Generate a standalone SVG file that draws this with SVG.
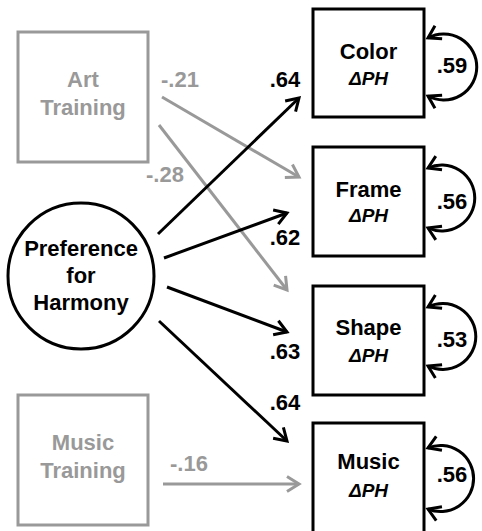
<svg xmlns="http://www.w3.org/2000/svg" width="482" height="531" viewBox="0 0 482 531">
<style>
.t{font-family:"Liberation Sans",Arial,sans-serif;font-weight:bold;font-size:22px;text-anchor:middle}
.s{font-family:"Liberation Sans",Arial,sans-serif;font-weight:bold;font-style:italic;font-size:19px;text-anchor:middle}
.blk{fill:#000}
.gry{fill:#999}
.bx{fill:#fff;stroke:#000;stroke-width:3}
.gbx{fill:#fff;stroke:#999;stroke-width:3}
.e{fill:none;stroke:#000;stroke-width:3}
.ge{fill:none;stroke:#999;stroke-width:3}
</style>
<defs>
<marker id="ab" markerUnits="userSpaceOnUse" markerWidth="20" markerHeight="20" viewBox="-16 -10 20 20" refX="0" refY="0" orient="auto-start-reverse">
<path d="M -12 -7.5 L 0 0 L -12 7.5" fill="none" stroke="#000" stroke-width="3"/>
</marker>
<marker id="ag" markerUnits="userSpaceOnUse" markerWidth="20" markerHeight="20" viewBox="-16 -10 20 20" refX="0" refY="0" orient="auto">
<path d="M -12 -7.5 L 0 0 L -12 7.5" fill="none" stroke="#999" stroke-width="3"/>
</marker>
</defs>
<rect width="482" height="531" fill="#fff"/>
<g id="connectors">
<line class="ge" x1="162" y1="97" x2="299" y2="177" marker-end="url(#ag)"/>
<line class="ge" x1="159" y1="125" x2="287" y2="290" marker-end="url(#ag)"/>
<line class="e" x1="158" y1="234" x2="299" y2="98" marker-end="url(#ab)"/>
<line class="e" x1="164" y1="258" x2="287" y2="213" marker-end="url(#ab)"/>
<line class="e" x1="167" y1="287" x2="287" y2="332" marker-end="url(#ab)"/>
<line class="e" x1="159" y1="321" x2="287" y2="441" marker-end="url(#ab)"/>
<line class="ge" x1="163" y1="484" x2="299" y2="484" marker-end="url(#ag)"/>
<path class="e" d="M 428 38 A 33 33 0 1 1 428 96" marker-start="url(#ab)" marker-end="url(#ab)"/>
<path class="e" d="M 428 168 A 33 33 0 1 1 428 228" marker-start="url(#ab)" marker-end="url(#ab)"/>
<path class="e" d="M 428 307 A 33 33 0 1 1 428 366" marker-start="url(#ab)" marker-end="url(#ab)"/>
<path class="e" d="M 428 448 A 33 33 0 1 1 428 509" marker-start="url(#ab)" marker-end="url(#ab)"/>
<text class="t gry" x="180" y="87">-.21</text>
<text class="t gry" x="165" y="182">-.28</text>
<text class="t gry" x="189" y="471">-.16</text>
<text class="t blk" x="285" y="87">.64</text>
<text class="t blk" x="285" y="245">.62</text>
<text class="t blk" x="285" y="359">.63</text>
<text class="t blk" x="285" y="410">.64</text>
<text class="t blk" x="452" y="73">.59</text>
<text class="t blk" x="452" y="209">.56</text>
<text class="t blk" x="452" y="347">.53</text>
<text class="t blk" x="452" y="482">.56</text>
</g>
<g id="art">
<rect class="gbx" x="18" y="32" width="130" height="130"/>
<text class="t gry" x="83" y="87">Art</text>
<text class="t gry" x="83" y="115">Training</text>
</g>
<g id="musictraining">
<rect class="gbx" x="18" y="395" width="130" height="130"/>
<text class="t gry" x="83" y="450">Music</text>
<text class="t gry" x="83" y="478">Training</text>
</g>
<g id="preference">
<circle cx="81" cy="276" r="73" fill="#fff" stroke="#000" stroke-width="3"/>
<text class="t blk" x="81" y="256">Preference</text>
<text class="t blk" x="81" y="283">for</text>
<text class="t blk" x="81" y="310">Harmony</text>
</g>
<g id="color">
<rect class="bx" x="313" y="9" width="111" height="108"/>
<text class="t blk" x="368.5" y="59">Color</text>
<text class="s blk" x="368.5" y="85">ΔPH</text>
</g>
<g id="frame">
<rect class="bx" x="313" y="147" width="111" height="109"/>
<text class="t blk" x="368.5" y="197">Frame</text>
<text class="s blk" x="368.5" y="222">ΔPH</text>
</g>
<g id="shape">
<rect class="bx" x="313" y="286" width="111" height="109"/>
<text class="t blk" x="368.5" y="335">Shape</text>
<text class="s blk" x="368.5" y="362">ΔPH</text>
</g>
<g id="music">
<rect class="bx" x="313" y="423" width="111" height="112"/>
<text class="t blk" x="368.5" y="469">Music</text>
<text class="s blk" x="368.5" y="497">ΔPH</text>
</g>
</svg>
